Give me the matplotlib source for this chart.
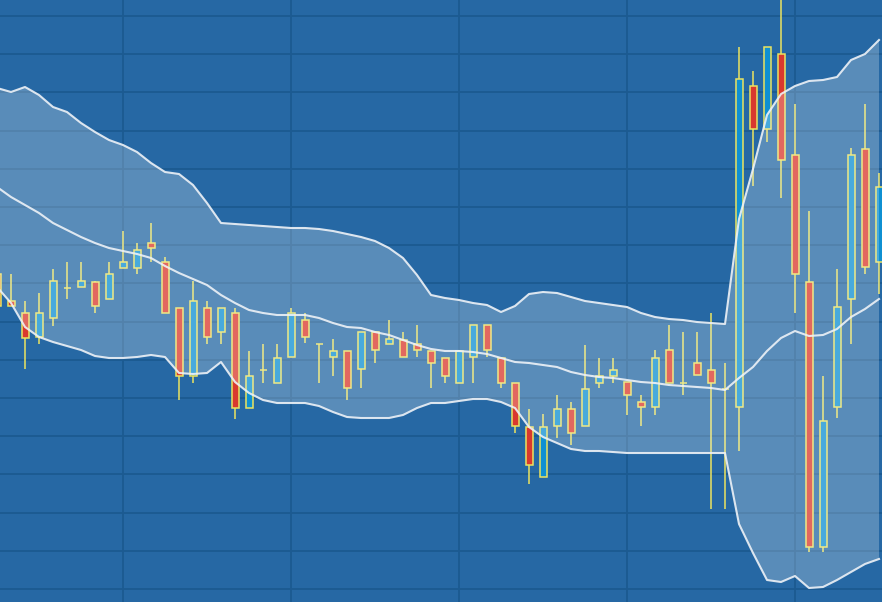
import numpy as np
import matplotlib
matplotlib.use('Agg')
import matplotlib.pyplot as plt

# candle data, one row per period (open, high, low, close)
opens = [34.6, 31.9, 30.7, 28.3, 30.2, 33.2, 33.3, 33.8, 32.1, 35.2,
         35.2, 37.7, 35.8, 31.2, 24.4, 31.2, 28.8, 30.7, 21.2, 25.0,
         23.7, 26.3, 30.0, 27.6, 26.3, 26.9, 25.1, 28.8, 27.6, 28.0,
         27.6, 26.9, 26.2, 23.7, 26.3, 29.5, 26.2, 23.7, 19.3, 14.3,
         19.4, 21.1, 19.4, 23.7, 24.4, 23.8, 21.8, 21.3, 27.0, 23.7,
         25.7, 25.0, 23.1, 21.3, 53.4, 49.1, 56.6, 46.5, 33.8, 7.3,
         21.3, 32.1, 47.1, 35.8]
highs = [34.6, 34.6, 31.9, 32.7, 35.1, 35.8, 35.8, 33.9, 35.8, 38.9,
         37.7, 39.7, 36.3, 31.2, 33.9, 31.9, 31.2, 31.2, 26.9, 27.6,
         27.6, 31.2, 30.7, 27.6, 28.1, 26.9, 28.8, 28.8, 30.0, 28.8,
         29.5, 26.9, 26.2, 26.9, 29.5, 29.5, 26.2, 23.7, 21.1, 20.6,
         22.5, 21.8, 27.5, 26.2, 26.2, 23.8, 22.5, 27.0, 29.5, 28.8,
         28.8, 30.7, 25.7, 57.3, 54.9, 57.3, 63.0, 51.6, 40.9, 24.4,
         35.1, 47.2, 51.6, 44.7]
lows = [31.4, 31.4, 25.1, 27.6, 29.4, 32.1, 33.3, 30.7, 32.1, 35.2,
        34.6, 35.8, 30.7, 22.0, 23.7, 27.6, 27.6, 20.1, 21.2, 23.7,
        23.7, 26.3, 27.7, 23.7, 24.4, 22.0, 23.2, 25.7, 27.6, 26.3,
        26.3, 23.2, 23.7, 23.7, 23.7, 26.3, 23.2, 18.7, 13.6, 14.3,
        18.2, 17.5, 19.4, 23.2, 23.7, 20.5, 19.4, 20.5, 23.7, 22.5,
        24.5, 11.1, 11.1, 16.9, 43.4, 47.8, 42.2, 30.7, 6.8, 6.8,
        20.2, 27.6, 34.6, 32.6]
closes = [31.4, 31.4, 28.2, 30.7, 33.9, 33.2, 33.9, 31.4, 34.6, 35.8,
          37.0, 37.2, 30.7, 24.4, 31.9, 28.3, 31.2, 21.2, 24.4, 25.0,
          26.2, 30.7, 28.3, 27.6, 26.9, 23.2, 28.8, 27.0, 28.1, 26.3,
          27.0, 25.7, 24.4, 26.9, 29.5, 27.0, 23.7, 19.4, 15.5, 19.3,
          21.1, 18.7, 23.1, 24.4, 25.0, 22.5, 21.3, 26.2, 23.7, 23.7,
          24.5, 23.7, 23.1, 54.1, 49.1, 57.3, 46.0, 34.6, 7.3, 19.9,
          31.3, 46.5, 35.3, 43.3]

# bollinger bands
upper = [53.2, 52.8, 53.3, 52.5, 51.3, 50.8, 49.7, 48.8, 48.0, 47.5,
         46.8, 45.7, 44.8, 44.6, 43.5, 41.7, 39.7, 39.6, 39.5, 39.4,
         39.3, 39.2, 39.2, 39.1, 38.9, 38.6, 38.3, 37.9, 37.2, 36.2,
         34.5, 32.5, 32.2, 32.0, 31.7, 31.5, 30.8, 31.4, 32.6, 32.8,
         32.7, 32.3, 31.9, 31.7, 31.5, 31.3, 30.7, 30.3, 30.1, 30.0,
         29.8, 29.7, 29.6, 40.1, 45.1, 50.5, 52.6, 53.4, 53.9, 54.0,
         54.3, 56.0, 56.6, 58.0]
middle = [43.3, 42.3, 41.5, 40.7, 39.7, 39.0, 38.3, 37.7, 37.2, 36.9,
          36.6, 36.2, 35.4, 34.7, 34.1, 33.5, 32.5, 31.7, 31.0, 30.7,
          30.5, 30.5, 30.5, 30.2, 29.7, 29.3, 29.2, 28.8, 28.5, 28.0,
          27.5, 27.1, 26.9, 26.9, 26.8, 26.6, 26.2, 25.8, 25.7, 25.5,
          25.3, 24.8, 24.5, 24.3, 24.2, 24.0, 23.8, 23.7, 23.5, 23.4,
          23.3, 23.2, 23.0, 24.2, 25.3, 26.9, 28.2, 28.9, 28.4, 28.5,
          29.1, 30.3, 31.1, 32.1]
lower = [33.3, 31.7, 29.3, 28.3, 27.8, 27.4, 27.0, 26.4, 26.2, 26.2,
         26.3, 26.5, 26.3, 24.7, 24.6, 24.7, 25.8, 23.8, 22.7, 22.0,
         21.7, 21.7, 21.7, 21.4, 20.8, 20.3, 20.2, 20.2, 20.2, 20.5,
         21.2, 21.7, 21.7, 21.9, 22.1, 22.1, 21.8, 21.2, 19.3, 18.3,
         17.7, 17.1, 16.9, 16.9, 16.8, 16.7, 16.7, 16.7, 16.7, 16.7,
         16.7, 16.7, 16.7, 9.6, 6.7, 4.0, 3.8, 4.4, 3.2, 3.3,
         4.0, 4.8, 5.6, 6.1]

o = np.array(opens)
c = np.array(closes)
h = np.array(highs)
l = np.array(lows)
x = np.arange(len(o))

bg = '#2668a4'
up_col = '#0f90d2'
down_col = '#d9392e'
edge = '#ece35f'

fig = plt.figure(figsize=(8.82, 6.02), dpi=100)
fig.patch.set_facecolor(bg)
ax = fig.add_axes([0, 0, 1, 1])
ax.set_facecolor(bg)

# grid
ax.set_xticks(np.arange(9, 64, 12))
ax.set_yticks(np.arange(60.4, 0, -3.82))
ax.grid(True, color='#1c5a91', linewidth=1.3, zorder=0)
ax.set_axisbelow(True)
ax.tick_params(length=0, labelbottom=False, labelleft=False)
for s in ax.spines.values():
    s.set_visible(False)

# wicks
ax.vlines(x, l, h, color=edge, linewidth=1.1, zorder=2)

# bodies
rising = c >= o
colors = np.where(rising, up_col, down_col)
bottoms = np.minimum(o, c)
heights = np.abs(c - o)
ax.bar(x, heights, bottom=bottoms, width=0.5, color=colors,
       edgecolor=edge, linewidth=1.1, zorder=3)

# bands, fill drawn over the candles
ax.fill_between(x, lower, upper, color='white', alpha=0.24, linewidth=0, zorder=4)
for band in (upper, middle, lower):
    ax.plot(x, band, color='#eef2f7', linewidth=1.5, alpha=0.9, zorder=5)

ax.set_xlim(3 / 14, 885 / 14)
ax.set_ylim(1.8, 62)

plt.savefig('out.png', dpi=100, facecolor=bg)
